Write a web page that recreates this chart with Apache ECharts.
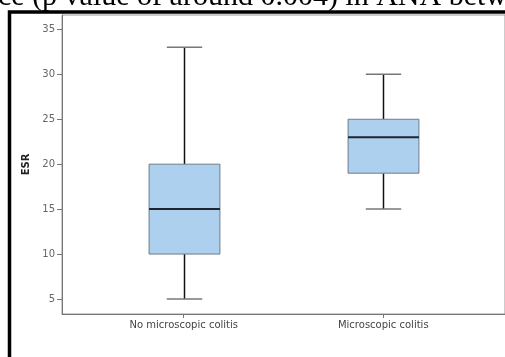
<!DOCTYPE html>
<html>
<head>
<meta charset="utf-8">
<script src="https://cdn.jsdelivr.net/npm/echarts@6/dist/echarts.min.js"></script>
<style>html,body{margin:0;padding:0;background:#fff}#c{width:505px;height:357px}</style>
</head>
<body>
<div id="c"></div>
<script>
var categories = ['No microscopic colitis', 'Microscopic colitis'];
var whiskerLow = [5, 15];
var q1 = [10, 19];
var median = [15, 23];
var q3 = [20, 25];
var whiskerHigh = [33, 30];
var yTicks = [5, 10, 15, 20, 25, 30, 35];

var data = categories.map(function (c, i) {
  return [i, whiskerLow[i], q1[i], median[i], q3[i], whiskerHigh[i]];
});

var chart = echarts.init(document.getElementById('c'), null, {renderer: 'canvas'});

function renderItem(params, api) {
  var x = api.value(0);
  var pLow = api.coord([x, api.value(1)]);
  var pQ1 = api.coord([x, api.value(2)]);
  var pMed = api.coord([x, api.value(3)]);
  var pQ3 = api.coord([x, api.value(4)]);
  var pHigh = api.coord([x, api.value(5)]);
  var band = api.size([1, 0])[0];
  var bw = band * 0.355;
  var cw = bw / 2;
  var cx = Math.round(pMed[0]) + 0.5;
  return {
    type: 'group',
    children: [
      {type: 'line', shape: {x1: cx, y1: pHigh[1], x2: cx, y2: pQ3[1]}, style: {stroke: '#111', lineWidth: 1.5}},
      {type: 'line', shape: {x1: cx, y1: pQ1[1], x2: cx, y2: pLow[1]}, style: {stroke: '#111', lineWidth: 1.5}},
      {type: 'line', shape: {x1: cx - cw / 2, y1: pHigh[1], x2: cx + cw / 2, y2: pHigh[1]}, style: {stroke: '#777', lineWidth: 1.5}},
      {type: 'line', shape: {x1: cx - cw / 2, y1: pLow[1], x2: cx + cw / 2, y2: pLow[1]}, style: {stroke: '#777', lineWidth: 1.5}},
      {type: 'rect', shape: {x: cx - bw / 2, y: pQ3[1], width: bw, height: pQ1[1] - pQ3[1]}, style: {fill: '#aed0ef', stroke: '#6e7b88', lineWidth: 1}},
      {type: 'line', shape: {x1: cx - bw / 2, y1: pMed[1], x2: cx + bw / 2, y2: pMed[1]}, style: {stroke: '#1c2530', lineWidth: 2}}
    ]
  };
}

chart.setOption({
  animation: false,
  graphic: [
    {type: 'text', left: -2, top: -18, style: {text: 'ce (p value of around 0.004) in ANA betw', font: '30px "Liberation Serif"', fill: '#000'}},
    {type: 'rect', shape: {x: 9.5, y: 12, width: 520, height: 360}, style: {fill: 'none', stroke: '#000', lineWidth: 3.5}, z: 100}
  ],
  grid: {left: 62, top: 15, width: 444, height: 299, show: true, borderColor: '#999', borderWidth: 1, backgroundColor: 'transparent'},
  xAxis: {
    type: 'value', min: -0.61, max: 1.61,
    splitLine: {show: false},
    axisLine: {show: true, onZero: false, lineStyle: {color: '#777'}},
    axisTick: {show: true, customValues: [0, 1], length: 4, lineStyle: {color: '#777'}},
    axisLabel: {customValues: [0, 1], formatter: function (v) { return categories[Math.round(v)]; }, color: '#444', fontSize: 10, fontFamily: '"DejaVu Sans"', margin: 6}
  },
  yAxis: {
    type: 'value', min: 3.33, max: 36.6,
    name: 'ESR', nameLocation: 'middle', nameGap: 27, nameRotate: 90,
    nameTextStyle: {fontWeight: 'bold', fontSize: 10, color: '#222', fontFamily: '"DejaVu Sans"'},
    splitLine: {show: false},
    axisLine: {show: true, onZero: false, lineStyle: {color: '#777'}},
    axisTick: {show: true, customValues: yTicks, length: 5, lineStyle: {color: '#777'}},
    axisLabel: {customValues: yTicks, color: '#666', fontSize: 10, fontFamily: '"DejaVu Sans"', margin: 7}
  },
  series: [{type: 'custom', renderItem: renderItem, data: data, encode: {x: 0, y: [1, 2, 3, 4, 5]}, clip: false}]
});
</script>
</body>
</html>
